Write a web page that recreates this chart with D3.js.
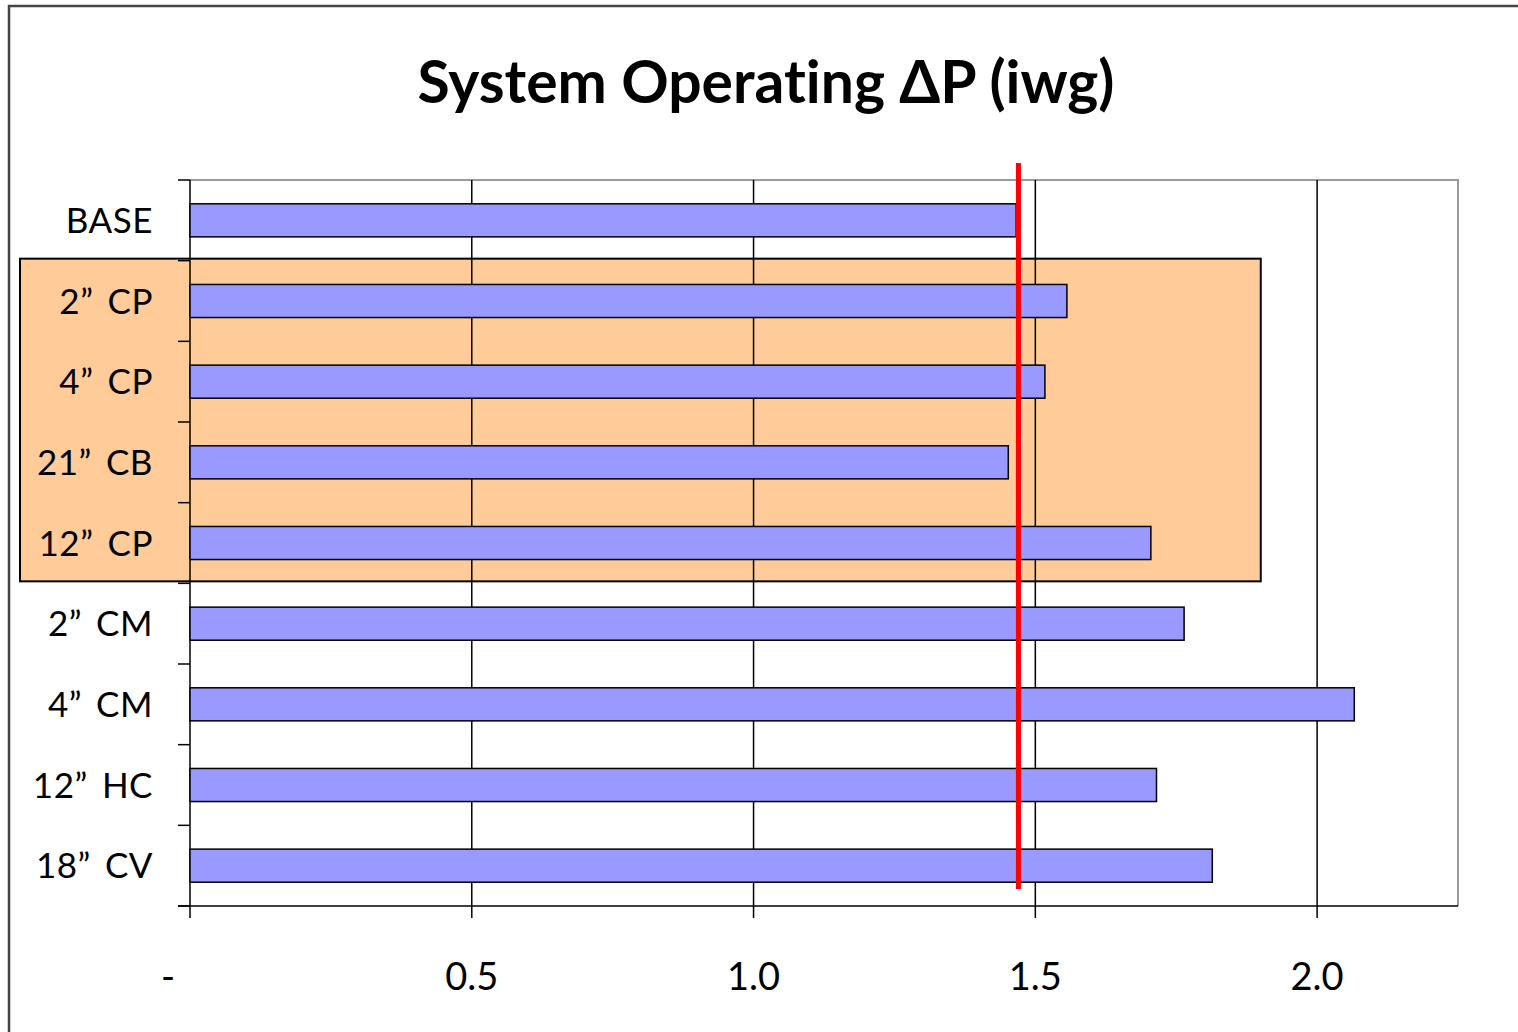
<!DOCTYPE html>
<html>
<head>
<meta charset="utf-8">
<script src="https://cdn.jsdelivr.net/npm/d3@7"></script>
<style>
  html, body { margin: 0; padding: 0; background: #fff; }
  svg { display: block; }
  text { font-family: Lato, "Open Sans", sans-serif; fill: #000; font-variant-ligatures: none; }
</style>
</head>
<body>
<svg id="chart" width="1518" height="1032"></svg>
<script>
// ---- data ----
const title = "System Operating \u0394P (iwg)";
const categories = ["BASE", "2\u201D CP", "4\u201D CP", "21\u201D CB", "12\u201D CP", "2\u201D CM", "4\u201D CM", "12\u201D HC", "18\u201D CV"];
const values = [1.466, 1.556, 1.517, 1.452, 1.705, 1.764, 2.066, 1.715, 1.814];
const xTickValues = [0, 0.5, 1.0, 1.5, 2.0];
const xTickLabels = ["-", "0.5", "1.0", "1.5", "2.0"];
const xDomain = [0, 2.25];
const referenceValue = 1.47;
const highlightCategories = ["2\u201D CP", "12\u201D CP"];
const highlightEnd = 1.9;

// ---- layout ----
const svg = d3.select("#chart");
const plot = { left: 190, top: 180, right: 1458, bottom: 906 };

const x = d3.scaleLinear().domain(xDomain).range([plot.left, plot.right]);
const y = d3.scaleBand().domain(categories).range([plot.top, plot.bottom])
  .paddingInner(0.59).paddingOuter(0.295);
const step = y.step();
const gap = (step - y.bandwidth()) / 2;

// outer frame
svg.append("rect").attr("x", 9).attr("y", 6).attr("width", 1530).attr("height", 1050)
  .attr("fill", "#fff").attr("stroke", "#444").attr("stroke-width", 2.5);

// highlight box
const hTop = y(highlightCategories[0]) - gap - 2;
const hBot = y(highlightCategories[1]) + y.bandwidth() + gap - 2;
svg.append("rect").attr("x", 20).attr("y", hTop)
  .attr("width", x(highlightEnd) - 20).attr("height", hBot - hTop)
  .attr("fill", "#FFCC99").attr("stroke", "#000").attr("stroke-width", 2);

// plot border (top/right gray)
svg.append("path")
  .attr("d", `M${plot.left},${plot.top}H${plot.right}V${plot.bottom}`)
  .attr("fill", "none").attr("stroke", "#9a9a9a").attr("stroke-width", 2);

// gridlines + x ticks
svg.append("g").selectAll("line").data(xTickValues).join("line")
  .attr("x1", d => x(d)).attr("x2", d => x(d))
  .attr("y1", plot.top).attr("y2", plot.bottom + 12)
  .attr("stroke", "#000").attr("stroke-width", 1.5);

// bars
svg.append("g").selectAll("rect").data(categories).join("rect")
  .attr("x", x(0)).attr("y", d => y(d))
  .attr("width", (d, i) => x(values[i]) - x(0))
  .attr("height", y.bandwidth())
  .attr("fill", "#9999FF").attr("stroke", "#000").attr("stroke-width", 1.5);

// x axis line
svg.append("line").attr("x1", plot.left - 12).attr("x2", plot.right)
  .attr("y1", plot.bottom).attr("y2", plot.bottom)
  .attr("stroke", "#000").attr("stroke-width", 1.5);

// y axis ticks at band boundaries
svg.append("g").selectAll("line").data(d3.range(categories.length + 1)).join("line")
  .attr("x1", plot.left - 12).attr("x2", plot.left)
  .attr("y1", i => plot.top + i * step).attr("y2", i => plot.top + i * step)
  .attr("stroke", "#000").attr("stroke-width", 1.5);

// category labels
svg.append("g").selectAll("text").data(categories).join("text")
  .attr("x", 153).attr("y", d => y(d) + y.bandwidth() / 2)
  .attr("dy", "0.36em")
  .attr("text-anchor", "end")
  .attr("font-size", 35)
  .attr("word-spacing", 5)
  .attr("letter-spacing", 0.5)
  .text(d => d);

// x tick labels
svg.append("g").selectAll("text").data(xTickValues).join("text")
  .attr("x", (d, i) => x(d) + (i === 0 ? -22 : 0))
  .attr("y", 990)
  .attr("text-anchor", "middle")
  .attr("font-size", 38)
  .text((d, i) => xTickLabels[i]);

// reference line
svg.append("line")
  .attr("x1", x(referenceValue)).attr("x2", x(referenceValue))
  .attr("y1", plot.top - 17).attr("y2", plot.bottom - 17)
  .attr("stroke", "#FF0000").attr("stroke-width", 5);

// title
const t = svg.append("text").attr("x", 766).attr("y", 103)
  .attr("text-anchor", "middle").attr("font-weight", "bold")
  .attr("font-size", 50).text(title);
const w = t.node().getComputedTextLength();
t.attr("font-size", 50 * 697 / w);
</script>
</body>
</html>
